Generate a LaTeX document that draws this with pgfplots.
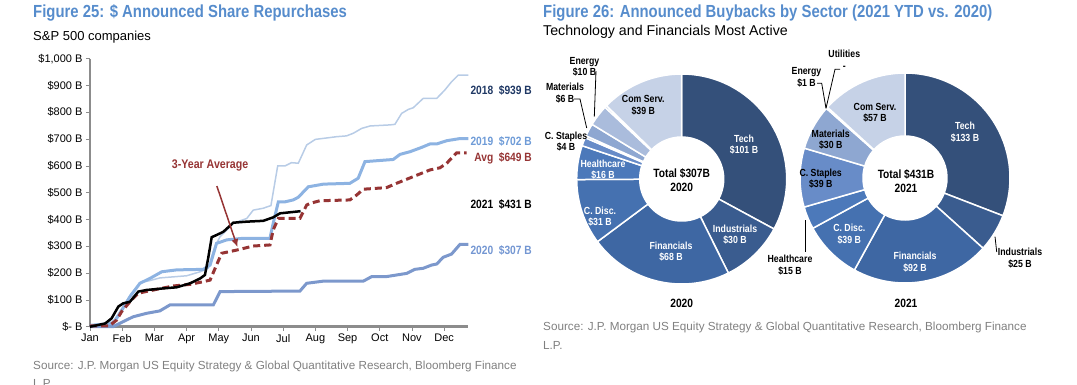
\documentclass[border=0pt]{standalone}
\usepackage{pgfplots}
\pgfplotsset{compat=1.18}
\usepackage{pgfplotstable}
\usetikzlibrary{arrows.meta}
\usepackage{fontspec}
\setmainfont{Liberation Sans}
\newfontfamily\narrowfont[FakeStretch=0.85]{Liberation Sans}

\definecolor{titleblue}{RGB}{86,140,204}
\definecolor{axisgray}{RGB}{140,140,140}
\definecolor{srcgray}{RGB}{128,128,128}
\definecolor{c2018}{RGB}{184,204,230}
\definecolor{c2019}{RGB}{141,179,226}
\definecolor{c2020}{RGB}{124,152,204}
\definecolor{cavg}{RGB}{150,52,52}
\definecolor{l2018}{RGB}{31,56,100}
\definecolor{l2019}{RGB}{110,155,215}
\definecolor{l2020}{RGB}{115,150,210}
\definecolor{cTech}{RGB}{52,80,122}
\definecolor{cInd}{RGB}{58,92,143}
\definecolor{cFin}{RGB}{62,103,163}
\definecolor{cDisc}{RGB}{69,113,176}
\definecolor{cHealth}{RGB}{76,121,186}
\definecolor{cStap}{RGB}{104,140,200}
\definecolor{cReal}{RGB}{125,155,208}
\definecolor{cMat}{RGB}{142,167,209}
\definecolor{cEnergy}{RGB}{170,188,220}
\definecolor{cUtil}{RGB}{185,200,228}
\definecolor{cCom}{RGB}{198,210,231}

% ---------- line chart data (x = months since Jan 1, y = $B) ----------
\pgfplotstableread{
x y
0 5
0.60 15
0.75 25
1.03 75
1.29 125
1.58 165
1.86 172
2.17 182
3.00 190
3.42 205
3.67 218
3.88 299
4.04 336
4.25 361
4.45 386
4.87 404
5.07 435
5.38 442
5.62 452
5.83 600
6.06 600
6.26 612
6.47 610
6.73 678
7.00 699
7.40 705
7.66 709
7.97 712
8.18 722
8.44 740
8.70 749
9.32 753
9.47 755
9.68 796
9.89 811
10.04 817
10.35 852
10.77 852
11.02 883
11.23 914
11.44 939
11.75 939
}\dataA
\pgfplotstableread{
x y
0 5
0.72 12
0.93 50
1.24 112
1.55 162
1.86 180
2.23 205
2.69 212
3.52 214
3.73 230
3.93 311
4.25 324
4.76 330
5.59 330
5.69 386
5.85 466
6.06 466
6.31 473
6.47 483
6.78 522
7.25 532
8.07 535
8.33 554
8.54 616
9.42 624
9.63 643
9.94 653
10.30 669
10.56 682
10.77 682
11.08 694
11.49 702
11.75 702
}\dataB
\pgfplotstableread{
x y
0 0
0.72 0
1.03 19
1.34 37
1.76 50
2.17 59
2.48 81
3.83 81
4.04 131
6.52 133
6.73 162
7.25 170
8.49 170
8.75 187
9.21 187
9.84 199
10.09 214
10.35 218
10.61 230
10.77 234
10.97 259
11.23 271
11.49 307
11.75 307
}\dataC
\pgfplotstableread{
x y
0 0
0.47 12
0.67 31
0.88 75
1.03 87
1.24 93
1.50 131
1.76 137
2.28 143
2.69 147
3.11 162
3.42 180
3.57 193
3.67 255
3.78 334
3.93 342
4.14 354
4.45 388
4.87 392
5.38 395
5.69 408
5.90 423
6.54 431
}\dataD
\pgfplotstableread{
x y
0 3
0.60 3
0.83 25
0.98 56
1.24 93
1.50 125
1.97 137
2.59 152
3.11 158
3.52 168
3.73 174
3.93 230
4.09 274
4.56 286
5.07 301
5.59 305
5.69 361
5.85 404
6.52 404
6.73 454
6.83 460
7.14 470
8.07 473
8.28 491
8.49 513
9.21 519
9.52 535
10.04 560
10.56 585
10.87 593
11.08 610
11.39 649
11.70 649
}\dataAvg

% ---------- donut data ($B, clockwise from 12 o'clock) ----------
\pgfplotstableread{
v c
101 cTech
30 cInd
68 cFin
31 cDisc
16 cHealth
4 cStap
1 cReal
6 cMat
10 cEnergy
1 cUtil
39 cCom
}\donutA
\pgfplotstableread{
v c
133 cTech
25 cInd
92 cFin
39 cDisc
15 cHealth
39 cStap
30 cMat
1 cEnergy
57 cCom
}\donutB

\newcommand\builddonut[3]{%
  \pgfplotstablegetrowsof{#1}%
  \pgfmathtruncatemacro\nrows{\pgfplotsretval-1}%
  \gdef\dcum{0}%
  \gdef#3{}%
  \foreach \i in {0,...,\nrows}{%
    \pgfplotstablegetelem{\i}{v}\of{#1}\let\sliceval\pgfplotsretval
    \pgfplotstablegetelem{\i}{c}\of{#1}\let\slicecol\pgfplotsretval
    \pgfmathsetmacro\aone{90-\dcum/#2*360}%
    \pgfmathsetmacro\cumnew{\dcum+\sliceval}%
    \pgfmathsetmacro\atwo{90-\cumnew/#2*360}%
    \global\let\dcum\cumnew
    \pgfmathsetmacro\xa{105*cos(\aone)}\pgfmathsetmacro\ya{105*sin(\aone)}%
    \pgfmathsetmacro\xb{42*cos(\atwo)}\pgfmathsetmacro\yb{42*sin(\atwo)}%
    \xdef#3{\unexpanded\expandafter{#3}\noexpand\fill[\slicecol,draw=white,line width=1.5pt] (axis cs:\xa,\ya) arc[start angle=\aone,end angle=\atwo,radius=105pt] -- (axis cs:\xb,\yb) arc[start angle=\atwo,end angle=\aone,radius=42pt] -- cycle;}%
  }%
}

\begin{document}
\builddonut{\donutA}{307}{\donutApaths}%
\builddonut{\donutB}{431}{\donutBpaths}%
\begin{tikzpicture}
\useasboundingbox (0pt,0pt) rectangle (1077pt,384pt);

% ===== Figure 25 =====
\node[anchor=west,inner sep=0pt,text=titleblue,font=\narrowfont\bfseries\fontsize{17.5}{20}\selectfont] at (33pt,371pt) {Figure 25: \$ Announced Share Repurchases};
\node[anchor=west,inner sep=0pt,font=\fontsize{13}{15}\selectfont] at (33pt,347pt) {S\&P 500 companies};

\begin{axis}[
  at={(90pt,57.3pt)}, anchor=south west,
  scale only axis, width=378.3pt, height=268pt,
  xmin=0, xmax=11.75, ymin=0, ymax=1000,
  axis lines*=left,
  axis line style={draw=axisgray, line width=2.5pt},
  xtick={0,...,11},
  xticklabels={Jan,Feb,Mar,Apr,May,Jun,Jul,Aug,Sep,Oct,Nov,Dec},
  ytick={0,100,...,1000},
  yticklabels={\$- B,\$100 B,\$200 B,\$300 B,\$400 B,\$500 B,\$600 B,\$700 B,\$800 B,\$900 B,{\$1,000 B}},
  tick align=outside, major tick length=4pt,
  tick style={draw=axisgray, line width=0.8pt},
  tick label style={font=\fontsize{11}{13}\selectfont},
  clip=false,
]
\addplot[c2018, line width=1.5pt, no marks] table[x=x,y=y] {\dataA};
\addplot[c2019, line width=3pt, no marks] table[x=x,y=y] {\dataB};
\addplot[c2020, line width=3pt, no marks] table[x=x,y=y] {\dataC};
\addplot[cavg, line width=3pt, no marks, dash pattern=on 7pt off 4pt] table[x=x,y=y] {\dataAvg};
\addplot[black, line width=2.5pt, no marks] table[x=x,y=y] {\dataD};
\draw[cavg, line width=1.5pt, -{Latex[length=8pt,width=7pt]}] (axis cs:3.94,525) -- (axis cs:4.58,297);
\node[text=cavg, font=\narrowfont\bfseries\fontsize{12.5}{14}\selectfont] at (axis cs:3.73,600) {3-Year Average};
\end{axis}

\begin{scope}[font=\narrowfont\bfseries\fontsize{12}{14}\selectfont]
\node[anchor=east,inner sep=0pt,text=l2018] at (532pt,293.4pt) {2018\ \ \$939 B};
\node[anchor=east,inner sep=0pt,text=l2019] at (532pt,243pt) {2019\ \ \$702 B};
\node[anchor=east,inner sep=0pt,text=cavg] at (532pt,226pt) {Avg\ \ \$649 B};
\node[anchor=east,inner sep=0pt,text=black] at (532pt,180pt) {2021\ \ \$431 B};
\node[anchor=east,inner sep=0pt,text=l2020] at (532pt,134pt) {2020\ \ \$307 B};
\end{scope}

\node[anchor=west,inner sep=0pt,text=srcgray,font=\fontsize{11.7}{13}\selectfont] at (33pt,18pt) {Source: J.P. Morgan US Equity Strategy \& Global Quantitative Research, Bloomberg Finance};
\node[anchor=west,inner sep=0pt,text=srcgray,font=\fontsize{11.7}{13}\selectfont] at (33pt,1pt) {L.P.};

% ===== Figure 26 =====
\node[anchor=west,inner sep=0pt,text=titleblue,font=\narrowfont\bfseries\fontsize{17.5}{20}\selectfont] at (543pt,371pt) {Figure 26: Announced Buybacks by Sector (2021 YTD vs. 2020)};
\node[anchor=west,inner sep=0pt,font=\fontsize{14.2}{16}\selectfont] at (543pt,352pt) {Technology and Financials Most Active};

\begin{axis}[at={(681.7pt,205pt)}, anchor=center, hide axis, x=1pt, y=1pt,
  xmin=-110, xmax=110, ymin=-110, ymax=110, clip=false]
\donutApaths
\end{axis}
\begin{axis}[at={(905pt,206pt)}, anchor=center, hide axis, x=1pt, y=1pt,
  xmin=-110, xmax=110, ymin=-110, ymax=110, clip=false]
\donutBpaths
\end{axis}

\begin{scope}[font=\narrowfont\bfseries\fontsize{10.3}{11.5}\selectfont, align=center, inner sep=0pt]
% 2020
\node[text=white] at (744pt,239.5pt) {Tech\\\$101 B};
\node[text=white] at (735pt,149.5pt) {Industrials\\\$30 B};
\node[text=white] at (671pt,132.5pt) {Financials\\\$68 B};
\node[text=white] at (600pt,167.5pt) {C. Disc.\\\$31 B};
\node[text=white] at (603pt,214.6pt) {Healthcare\\\$16 B};
\node[text=black] at (643.3pt,278.5pt) {Com Serv.\\\$39 B};
\node[text=black] at (584.5pt,317pt) {Energy\\\$10 B};
\node[text=black] at (565pt,291pt) {Materials\\\$6 B};
\node[text=black] at (566pt,242.5pt) {C. Staples\\\$4 B};
% 2021
\node[text=white] at (965pt,251.7pt) {Tech\\\$133 B};
\node[text=black] at (875pt,271pt) {Com Serv.\\\$57 B};
\node[text=black] at (830.7pt,244.5pt) {Materials\\\$30 B};
\node[text=black] at (820.7pt,205.5pt) {C. Staples\\\$39 B};
\node[text=white] at (849.3pt,150pt) {C. Disc.\\\$39 B};
\node[text=white] at (915pt,121.7pt) {Financials\\\$92 B};
\node[text=black] at (1020pt,126pt) {Industrials\\\$25 B};
\node[text=black] at (790pt,118.7pt) {Healthcare\\\$15 B};
\node[text=black] at (806.5pt,306.7pt) {Energy\\\$1 B};
\node[text=black] at (844.3pt,324pt) {Utilities\\-};
\end{scope}
\begin{scope}[font=\narrowfont\bfseries\fontsize{12}{14}\selectfont, align=center, inner sep=0pt]
\node at (681.7pt,203.5pt) {Total \$307B\\2020};
\node at (906pt,203pt) {Total \$431B\\2021};
\node at (681.7pt,81pt) {2020};
\node at (906pt,81pt) {2021};
\end{scope}
\begin{scope}[line width=0.8pt, black]
\draw (596pt,313pt) -- (594.3pt,267.3pt);
\draw (574pt,285pt) -- (580pt,285pt) -- (586.7pt,256pt);
\draw (995pt,147.3pt) -- (996.7pt,132pt);
\draw (805.7pt,164pt) -- (805.7pt,132pt);
\draw (817pt,300.7pt) -- (821.7pt,300.7pt) -- (826pt,275.7pt);
\draw (840pt,314.7pt) -- (835pt,314.7pt) -- (826pt,275.7pt);
\end{scope}

\node[anchor=west,inner sep=0pt,text=srcgray,font=\fontsize{11.7}{13}\selectfont] at (543pt,57pt) {Source: J.P. Morgan US Equity Strategy \& Global Quantitative Research, Bloomberg Finance};
\node[anchor=west,inner sep=0pt,text=srcgray,font=\fontsize{11.7}{13}\selectfont] at (543pt,39pt) {L.P.};
\end{tikzpicture}
\end{document}
